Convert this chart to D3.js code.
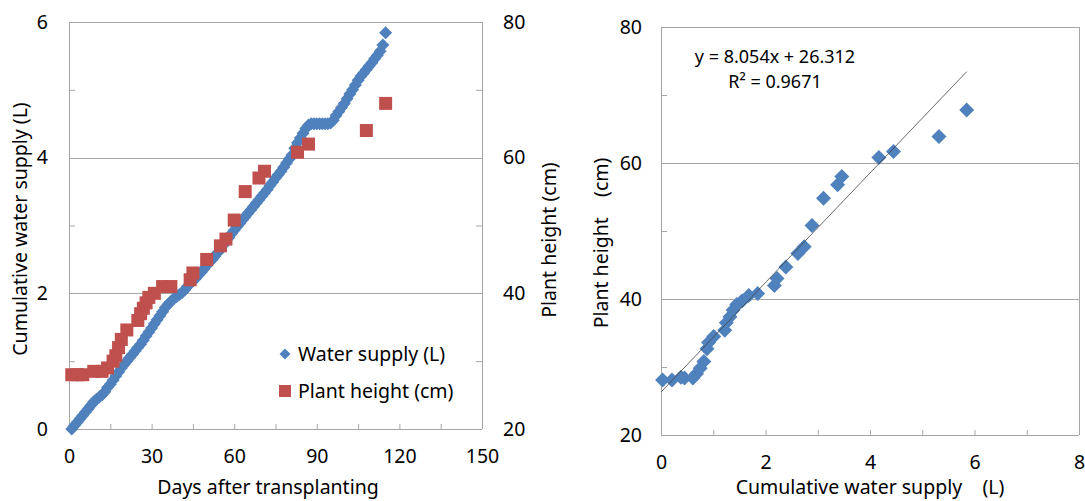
<!DOCTYPE html>
<html>
<head>
<meta charset="utf-8">
<script src="https://cdn.jsdelivr.net/npm/d3@7"></script>
<style>
  body { margin: 0; background: #fff; }
  text { font-family: "Noto Sans", sans-serif; fill: #000; }
</style>
</head>
<body>
<svg id="chart" width="1085" height="501"></svg>
<script>
// left chart: cumulative water supply per day (day 1..115)
const waterSupply = [
  0.00, 0.05, 0.10, 0.15, 0.20, 0.25, 0.30, 0.35, 0.40, 0.44,
  0.47, 0.50, 0.55, 0.61, 0.66, 0.72, 0.78, 0.84, 0.90, 0.95,
  1.00, 1.05, 1.10, 1.15, 1.20, 1.25, 1.31, 1.37, 1.43, 1.49,
  1.55, 1.61, 1.67, 1.73, 1.79, 1.84, 1.88, 1.92, 1.95, 1.98,
  2.01, 2.05, 2.10, 2.14, 2.18, 2.22, 2.27, 2.31, 2.36, 2.41,
  2.46, 2.50, 2.55, 2.60, 2.65, 2.71, 2.77, 2.82, 2.88, 2.93,
  2.98, 3.03, 3.08, 3.13, 3.18, 3.23, 3.28, 3.33, 3.38, 3.43,
  3.48, 3.53, 3.59, 3.64, 3.70, 3.75, 3.80, 3.86, 3.92, 3.98,
  4.04, 4.14, 4.22, 4.29, 4.36, 4.43, 4.48, 4.50, 4.50, 4.50,
  4.50, 4.50, 4.50, 4.50, 4.51, 4.55, 4.62, 4.68, 4.74, 4.80,
  4.87, 4.94, 5.00, 5.07, 5.14, 5.20, 5.25, 5.30, 5.35, 5.40,
  5.46, 5.51, 5.57, 5.66, 5.84
];

// plant height measurements
const heightDays = [1, 3, 5, 9, 12, 14, 16, 17, 18, 19, 21, 25, 26, 27, 28, 29,
  31, 34, 37, 44, 45, 50, 55, 57, 60, 64, 69, 71, 83, 87, 108, 115];
const plantHeight = [28, 28, 28, 28.5, 28.5, 29, 30, 30.8, 32, 33.2, 34.6, 36, 37, 37.8, 38.6, 39.4,
  40, 41, 41, 42, 43, 45, 47, 48, 50.8, 55, 57, 58, 60.8, 62, 64, 68];

// right chart: plant height vs cumulative water supply
const scatterWater = [0.03, 0.21, 0.38, 0.45, 0.61, 0.68, 0.75, 0.82, 0.88, 0.91, 1.01, 1.22, 1.25,
  1.32, 1.38, 1.45, 1.55, 1.68, 1.85, 2.17, 2.22, 2.39, 2.62, 2.74, 2.89, 3.11, 3.38, 3.46,
  4.17, 4.45, 5.32, 5.85];
const scatterHeight = [28.1, 28.1, 28.5, 28.4, 28.4, 29, 29.8, 30.8, 32.7, 33.6, 34.5, 35.4, 36.5,
  37.4, 38.4, 39.2, 39.7, 40.5, 40.8, 42, 43, 44.7, 46.7, 47.7, 50.8, 54.8, 56.8, 58,
  60.8, 61.7, 63.9, 67.8];

const slope = 8.054, intercept = 26.312;

const dayTicks = [0, 30, 60, 90, 120, 150];
const waterTicks = [0, 2, 4, 6];
const heightTicks = [20, 40, 60, 80];
const scatterXTicks = [0, 2, 4, 6, 8];

const blue = "#4f81bd", red = "#c0504d", grid = "#a6a6a6";
const fmt = d3.format("d");

const svg = d3.select("#chart");

function diamond(x, y, r) {
  return `M${x},${y - r}L${x + r},${y}L${x},${y + r}L${x - r},${y}Z`;
}

function styleAxis(g) {
  g.select(".domain").remove();
  g.selectAll("line").attr("stroke", grid);
  g.selectAll("text").style("font-size", "19.5px").attr("fill", "#000");
}

// ---------- left chart ----------
const L = { left: 69, right: 482, top: 22, bottom: 429 };

const x1 = d3.scaleLinear().domain([0, 150]).range([L.left, L.right]);
const y1 = d3.scaleLinear().domain([0, 6]).range([L.bottom, L.top]);
const y1b = d3.scaleLinear().domain([20, 80]).range([L.bottom, L.top]);

const left = svg.append("g");

left.selectAll(".grid")
    .data(waterTicks.slice(1))
  .enter().append("line")
    .attr("x1", L.left).attr("x2", L.right)
    .attr("y1", d => Math.round(y1(d)) + 0.5).attr("y2", d => Math.round(y1(d)) + 0.5)
    .attr("stroke", grid);

left.append("line")
    .attr("x1", L.left + 0.5).attr("x2", L.left + 0.5)
    .attr("y1", L.top).attr("y2", L.bottom)
    .attr("stroke", grid);
left.append("line")
    .attr("x1", L.right + 0.5).attr("x2", L.right + 0.5)
    .attr("y1", L.top).attr("y2", L.bottom)
    .attr("stroke", grid);
left.append("line")
    .attr("x1", L.left).attr("x2", L.right)
    .attr("y1", L.bottom + 0.5).attr("y2", L.bottom + 0.5)
    .attr("stroke", grid);

// x axis labels + inner ticks every 15 days
left.append("g")
    .attr("transform", `translate(0,${L.bottom})`)
    .call(d3.axisBottom(x1).tickValues(dayTicks).tickSize(0).tickPadding(20).tickFormat(fmt))
    .call(styleAxis);
left.append("g")
    .attr("transform", `translate(0,${L.bottom})`)
    .call(d3.axisBottom(x1).tickValues(d3.range(15, 150, 15)).tickSizeInner(-5).tickSizeOuter(0).tickFormat(""))
    .call(styleAxis);

left.append("g")
    .attr("transform", `translate(${L.left},0)`)
    .call(d3.axisLeft(y1).tickValues(waterTicks).tickSize(0).tickPadding(21).tickFormat(fmt))
    .call(styleAxis);
left.append("g")
    .attr("transform", `translate(${L.left},0)`)
    .call(d3.axisLeft(y1).tickValues([1, 3, 5]).tickSizeInner(-6).tickSizeOuter(0).tickFormat(""))
    .call(styleAxis);

left.append("g")
    .attr("transform", `translate(${L.right},0)`)
    .call(d3.axisRight(y1b).tickValues(heightTicks).tickSize(0).tickPadding(21).tickFormat(fmt))
    .call(styleAxis);
left.append("g")
    .attr("transform", `translate(${L.right},0)`)
    .call(d3.axisRight(y1b).tickValues([30, 50, 70]).tickSizeInner(-6).tickSizeOuter(0).tickFormat(""))
    .call(styleAxis);

left.selectAll(".water")
    .data(waterSupply)
  .enter().append("path")
    .attr("d", (d, i) => diamond(x1(i + 1), y1(d), 6.5))
    .attr("fill", blue);

left.selectAll(".height")
    .data(plantHeight)
  .enter().append("rect")
    .attr("x", (d, i) => x1(heightDays[i]) - 6.5)
    .attr("y", d => y1b(d) - 6.5)
    .attr("width", 13).attr("height", 13)
    .attr("fill", red);

left.append("text")
    .attr("transform", "translate(20,229) rotate(-90)")
    .attr("dy", "0.35em")
    .attr("text-anchor", "middle")
    .style("font-size", "19.5px")
    .text("Cumulative water supply (L)");

left.append("text")
    .attr("transform", "translate(549,240) rotate(-90)")
    .attr("dy", "0.35em")
    .attr("text-anchor", "middle")
    .style("font-size", "19.5px")
    .text("Plant height (cm)");

left.append("text")
    .attr("x", 268).attr("y", 494)
    .attr("text-anchor", "middle")
    .style("font-size", "19.5px")
    .text("Days after transplanting");

// legend
const legend = left.append("g");
legend.append("path").attr("d", diamond(285, 354, 5.5)).attr("fill", blue);
legend.append("text").attr("x", 298).attr("y", 354).attr("dy", "0.35em")
    .style("font-size", "19.5px").text("Water supply (L)");
legend.append("rect").attr("x", 279).attr("y", 385).attr("width", 12).attr("height", 12).attr("fill", red);
legend.append("text").attr("x", 298).attr("y", 391).attr("dy", "0.35em")
    .style("font-size", "19.5px").text("Plant height (cm)");

// ---------- right chart ----------
const R = { left: 661, right: 1079, top: 27, bottom: 435 };

const x2 = d3.scaleLinear().domain([0, 8]).range([R.left, R.right]);
const y2 = d3.scaleLinear().domain([20, 80]).range([R.bottom, R.top]);

const right = svg.append("g");

right.selectAll(".grid")
    .data(heightTicks.slice(1))
  .enter().append("line")
    .attr("x1", R.left).attr("x2", R.right)
    .attr("y1", d => Math.round(y2(d)) + 0.5).attr("y2", d => Math.round(y2(d)) + 0.5)
    .attr("stroke", grid);

right.append("line")
    .attr("x1", R.left + 0.5).attr("x2", R.left + 0.5)
    .attr("y1", R.top).attr("y2", R.bottom)
    .attr("stroke", grid);
right.append("line")
    .attr("x1", R.right + 0.5).attr("x2", R.right + 0.5)
    .attr("y1", R.top).attr("y2", R.bottom)
    .attr("stroke", grid);
right.append("line")
    .attr("x1", R.left).attr("x2", R.right)
    .attr("y1", R.bottom + 0.5).attr("y2", R.bottom + 0.5)
    .attr("stroke", grid);

right.append("g")
    .attr("transform", `translate(0,${R.bottom})`)
    .call(d3.axisBottom(x2).tickValues(scatterXTicks).tickSize(0).tickPadding(20).tickFormat(fmt))
    .call(styleAxis);
right.append("g")
    .attr("transform", `translate(0,${R.bottom})`)
    .call(d3.axisBottom(x2).tickValues([1, 2, 3, 4, 5, 6, 7]).tickSizeInner(-5).tickSizeOuter(0).tickFormat(""))
    .call(styleAxis);

right.append("g")
    .attr("transform", `translate(${R.left},0)`)
    .call(d3.axisLeft(y2).tickValues(heightTicks).tickSize(0).tickPadding(19).tickFormat(fmt))
    .call(styleAxis);
right.append("g")
    .attr("transform", `translate(${R.left},0)`)
    .call(d3.axisLeft(y2).tickValues([30, 50, 70]).tickSizeInner(-6).tickSizeOuter(0).tickFormat(""))
    .call(styleAxis);

right.selectAll(".pt")
    .data(scatterHeight)
  .enter().append("path")
    .attr("d", (d, i) => diamond(x2(scatterWater[i]), y2(d), 7.5))
    .attr("fill", blue);

// linear trendline over the data range
const xMax = d3.max(scatterWater);
right.append("line")
    .attr("x1", x2(0)).attr("y1", y2(intercept))
    .attr("x2", x2(xMax)).attr("y2", y2(slope * xMax + intercept))
    .attr("stroke", "#444")
    .attr("stroke-width", 0.8);

right.append("text")
    .attr("x", 775).attr("y", 63)
    .attr("text-anchor", "middle")
    .style("font-size", "18px")
    .text(`y = ${slope}x + ${intercept}`);
right.append("text")
    .attr("x", 775).attr("y", 88)
    .attr("text-anchor", "middle")
    .style("font-size", "18px")
    .text("R² = 0.9671");

right.append("text")
    .attr("transform", "translate(601,243) rotate(-90)")
    .attr("dy", "0.35em")
    .attr("text-anchor", "middle")
    .style("font-size", "19.5px")
    .style("white-space", "pre")
    .text("Plant height    (cm)");

right.append("text")
    .attr("x", 870).attr("y", 494)
    .attr("text-anchor", "middle")
    .style("font-size", "19.5px")
    .style("white-space", "pre")
    .text("Cumulative water supply    (L)");
</script>
</body>
</html>
